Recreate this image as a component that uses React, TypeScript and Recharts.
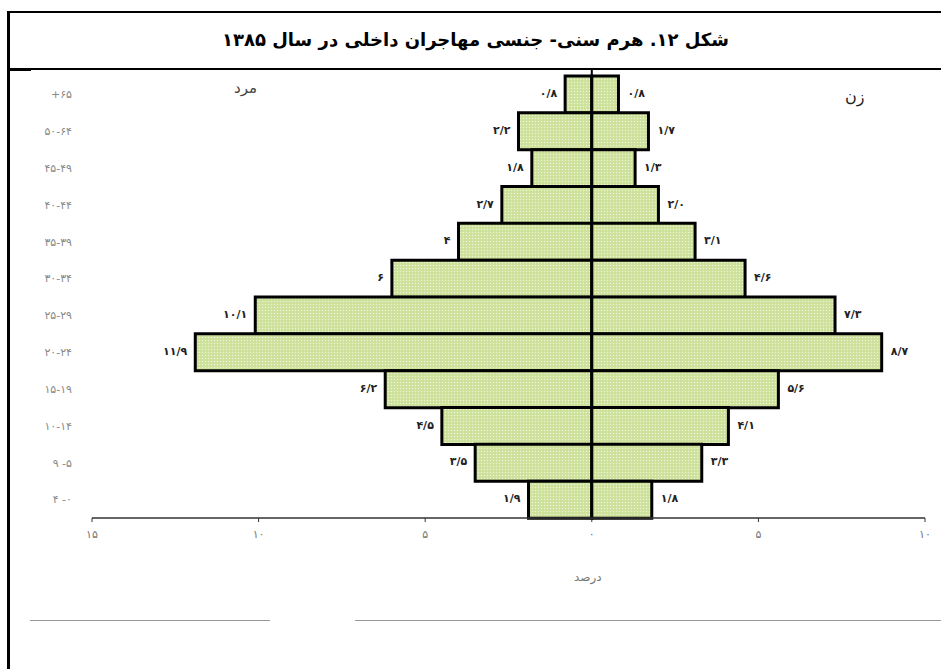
import { Bar, BarChart, LabelList, ReferenceLine, XAxis, YAxis } from 'recharts';

// age groups, top to bottom, written as they read left to right in the figure
const ageGroups = ['+۶۵', '۵۰-۶۴', '۴۵-۴۹', '۴۰-۴۴', '۳۵-۳۹', '۳۰-۳۴', '۲۵-۲۹', '۲۰-۲۴', '۱۵-۱۹', '۱۰-۱۴', '۹ -۵', '۴ -۰'];
const male = [0.8, 2.2, 1.8, 2.7, 4, 6, 10.1, 11.9, 6.2, 4.5, 3.5, 1.9];
const female = [0.8, 1.7, 1.3, 2.0, 3.1, 4.6, 7.3, 8.7, 5.6, 4.1, 3.3, 1.8];
const maleLabels = ['۰/۸', '۲/۲', '۱/۸', '۲/۷', '۴', '۶', '۱۰/۱', '۱۱/۹', '۶/۲', '۴/۵', '۳/۵', '۱/۹'];
const femaleLabels = ['۰/۸', '۱/۷', '۱/۳', '۲/۰', '۳/۱', '۴/۶', '۷/۳', '۸/۷', '۵/۶', '۴/۱', '۳/۳', '۱/۸'];
const xTicks = [-15, -10, -5, 0, 5, 10];

const title = 'شکل ۱۲. هرم سنی- جنسی مهاجران داخلی در سال ۱۳۸۵';

const data = ageGroups.map((age, i) => ({
  age,
  male: -male[i],
  female: female[i],
  maleLabel: maleLabels[i],
  femaleLabel: femaleLabels[i],
}));

const faDigits = '۰۱۲۳۴۵۶۷۸۹';
const toFa = (n: number) => String(Math.abs(n)).replace(/\d/g, (d) => faDigits[Number(d)]);

const FONT = '"DejaVu Sans", sans-serif';

function ValueLabel(props: any) {
  const { x, y, width, height, value, side } = props;
  const left = Math.min(x, x + width);
  const right = Math.max(x, x + width);
  const tx = side === 'left' ? left - 8 : right + 9;
  return (
    <text
      x={tx}
      y={y + height / 2 - 1}
      textAnchor={side === 'left' ? 'end' : 'start'}
      dominantBaseline="central"
      fontSize={11}
      fontWeight="bold"
      fill="#222"
      fontFamily={FONT}
    >
      {value}
    </text>
  );
}

export default function App() {
  return (
    <div style={{ position: 'absolute', left: 0, top: 0, width: 941, height: 669, background: '#fff', fontFamily: FONT }}>
      <svg width={0} height={0} style={{ position: 'absolute' }}>
        <defs>
          <pattern id="dots" width="3" height="3" patternUnits="userSpaceOnUse">
            <rect width="3" height="3" fill="#cde19a" />
            <circle cx="1.5" cy="1.5" r="0.7" fill="#eef6d8" />
          </pattern>
        </defs>
      </svg>

      {/* frame */}
      <div style={{ position: 'absolute', left: 7, top: 11, width: 934, height: 2, background: '#000' }} />
      <div style={{ position: 'absolute', left: 7, top: 11, width: 3, height: 658, background: '#000' }} />
      <div style={{ position: 'absolute', left: 7, top: 68, width: 934, height: 2, background: '#000' }} />
      <div style={{ position: 'absolute', left: 7, top: 68, width: 24, height: 3, background: '#000' }} />

      <div
        dir="rtl"
        style={{ position: 'absolute', left: 10, top: 25, width: 931, textAlign: 'center', fontSize: 18, fontWeight: 'bold', color: '#000', lineHeight: '30px' }}
      >
        {title}
      </div>

      <BarChart
        width={941}
        height={669}
        data={data}
        layout="vertical"
        stackOffset="sign"
        barCategoryGap={0}
        margin={{ top: 70, right: 16, bottom: 121, left: 12 }}
      >
        <XAxis
          type="number"
          domain={[-15, 10]}
          ticks={xTicks}
          tickFormatter={toFa}
          height={30}
          tickSize={4}
          tickMargin={8}
          axisLine={{ stroke: '#333', strokeWidth: 1.5 }}
          tickLine={{ stroke: '#333' }}
          tick={{ fontSize: 11, fill: '#777', fontFamily: FONT }}
        />
        <YAxis
          type="category"
          dataKey="age"
          width={80}
          padding={{ top: 6, bottom: 0 }}
          axisLine={false}
          tickLine={false}
          tickMargin={14}
          tick={{ fontSize: 11, fill: '#888', fontFamily: FONT }}
        />
        <Bar dataKey="male" stackId="a" fill="url(#dots)" stroke="#000" strokeWidth={3} isAnimationActive={false}>
          <LabelList dataKey="maleLabel" content={(p: any) => <ValueLabel {...p} side="left" />} />
        </Bar>
        <Bar dataKey="female" stackId="a" fill="url(#dots)" stroke="#000" strokeWidth={3} isAnimationActive={false}>
          <LabelList dataKey="femaleLabel" content={(p: any) => <ValueLabel {...p} side="right" />} />
        </Bar>
        <ReferenceLine x={0} stroke="#000" strokeWidth={2} />
      </BarChart>

      <div style={{ position: 'absolute', left: 234, top: 79, fontSize: 15, color: '#444' }}>مرد</div>
      <div style={{ position: 'absolute', left: 845, top: 87, fontSize: 16, color: '#222' }}>زن</div>
      <div style={{ position: 'absolute', left: 574, top: 570, fontSize: 12, color: '#777' }}>درصد</div>

      <div style={{ position: 'absolute', left: 30, top: 620, width: 240, height: 1, background: '#999' }} />
      <div style={{ position: 'absolute', left: 355, top: 620, width: 586, height: 1, background: '#999' }} />
    </div>
  );
}
